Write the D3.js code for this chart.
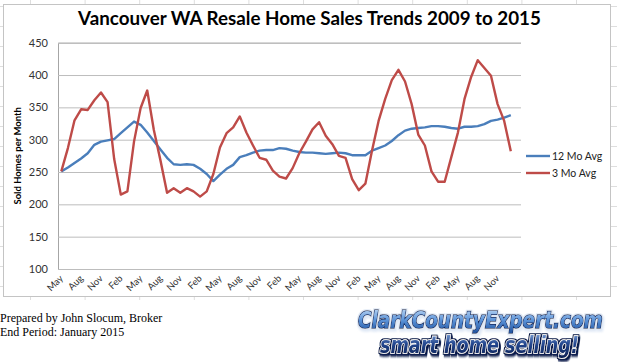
<!DOCTYPE html>
<html>
<head>
<meta charset="utf-8">
<script src="https://cdn.jsdelivr.net/npm/d3@7"></script>
<style>
  body { margin: 0; background: #fff; }
  svg { display: block; }
</style>
</head>
<body>
<div id="sales-trends-chart"></div>
<script>
const months = [
  "May-09","Jun-09","Jul-09","Aug-09","Sep-09","Oct-09","Nov-09","Dec-09",
  "Jan-10","Feb-10","Mar-10","Apr-10","May-10","Jun-10","Jul-10","Aug-10","Sep-10","Oct-10","Nov-10","Dec-10",
  "Jan-11","Feb-11","Mar-11","Apr-11","May-11","Jun-11","Jul-11","Aug-11","Sep-11","Oct-11","Nov-11","Dec-11",
  "Jan-12","Feb-12","Mar-12","Apr-12","May-12","Jun-12","Jul-12","Aug-12","Sep-12","Oct-12","Nov-12","Dec-12",
  "Jan-13","Feb-13","Mar-13","Apr-13","May-13","Jun-13","Jul-13","Aug-13","Sep-13","Oct-13","Nov-13","Dec-13",
  "Jan-14","Feb-14","Mar-14","Apr-14","May-14","Jun-14","Jul-14","Aug-14","Sep-14","Oct-14","Nov-14","Dec-14",
  "Jan-15"
];
const avg12 = [
  251, 257, 264, 271, 279, 292, 297, 299, 301, 310,
  319, 328, 323, 311, 298, 285, 272, 262, 261, 262,
  261, 255, 247, 236, 246, 255, 261, 273, 276, 280,
  283, 284, 284, 287, 286, 283, 281, 280, 280, 279,
  278, 279, 280, 279, 276, 276, 276, 283, 287, 291,
  298, 307, 314, 317, 318, 319, 321, 321, 320, 318,
  317, 320, 320, 321, 324, 329, 331, 334, 338
];
const avg3 = [
  251, 287, 330, 347, 346, 361, 373, 358, 270, 215,
  220, 297, 349, 376, 315, 268, 218, 225, 218, 225,
  220, 212, 220, 247, 288, 310, 319, 336, 311, 291,
  272, 269, 252, 243, 240, 256, 279, 297, 316, 327,
  306, 293, 275, 272, 239, 222, 232, 283, 329, 363,
  392, 408, 390, 355, 308, 291, 251, 235, 235, 273,
  311, 363, 397, 423, 411, 399, 355, 329, 282
];
const yTicks = [100, 150, 200, 250, 300, 350, 400, 450];
const seriesNames = ["12 Mo Avg", "3 Mo Avg"];
const seriesColors = ["#4a7ebb", "#be4b48"];

const width = 617, height = 362;
const plot = { left: 58, right: 521, top: 42.7, bottom: 269 };

const svg = d3.select('#sales-trends-chart')
  .append('svg')
  .attr('width', width)
  .attr('height', height);

// faint spreadsheet cell lines around the chart object
const cells = svg.append('g').attr('stroke', '#dedede').attr('stroke-width', 1);
d3.range(30.5, 617, 54.6).forEach(x => {
  cells.append('line').attr('x1', x).attr('x2', x).attr('y1', 0).attr('y2', 5);
  cells.append('line').attr('x1', x).attr('x2', x).attr('y1', 296).attr('y2', 300);
});
d3.range(6.5, 300, 20).forEach(y => {
  cells.append('line').attr('x1', 0).attr('x2', 3).attr('y1', y).attr('y2', y);
  cells.append('line').attr('x1', 611).attr('x2', 617).attr('y1', y).attr('y2', y);
});

// chart area
svg.append('rect')
  .attr('x', 3.5).attr('y', 4.5)
  .attr('width', 607).attr('height', 292)
  .attr('fill', '#fff')
  .attr('stroke', '#c4c4c4');

const x = d3.scalePoint().domain(months).range([61.3, 510.8]);
const y = d3.scaleLinear().domain([100, 450]).range([plot.bottom, plot.top]);

// gridlines + y axis
const yAxis = d3.axisLeft(y).tickValues(yTicks).tickSize(-(plot.right - plot.left)).tickPadding(10);
const gy = svg.append('g')
  .attr('transform', `translate(${plot.left},0)`)
  .call(yAxis);
gy.select('.domain').attr('stroke', '#a6a6a6');
gy.selectAll('.tick line').attr('stroke', '#bdbdbd');
gy.selectAll('.tick text')
  .attr('font-family', 'Lato, "Open Sans", sans-serif')
  .attr('font-size', 11)
  .attr('fill', '#333');

// x axis labels, every third month
const xAxis = d3.axisBottom(x)
  .tickValues(months.filter((d, i) => i % 3 === 0))
  .tickFormat(d => d.slice(0, 3))
  .tickSize(0);
const gx = svg.append('g')
  .attr('transform', `translate(0,${plot.bottom})`)
  .call(xAxis);
gx.select('.domain').remove();
gx.selectAll('.tick text')
  .attr('font-family', 'Lato, "Open Sans", sans-serif')
  .attr('font-size', 9.5)
  .attr('fill', '#333')
  .attr('text-anchor', 'end')
  .attr('dy', null)
  .attr('y', 0)
  .attr('transform', 'translate(2,10) rotate(-45)');

// y axis title
svg.append('text')
  .attr('transform', `translate(21,${(plot.top + plot.bottom) / 2}) rotate(-90)`)
  .attr('text-anchor', 'middle')
  .attr('font-family', 'Lato, "Open Sans", sans-serif')
  .attr('font-weight', 'bold')
  .attr('font-size', 9.5)
  .attr('fill', '#000')
  .text('Sold Homes per Month');

// lines
const line = d3.line().x((d, i) => x(months[i])).y(d => y(d));
[avg12, avg3].forEach((vals, k) => {
  svg.append('path')
    .datum(vals)
    .attr('fill', 'none')
    .attr('stroke', seriesColors[k])
    .attr('stroke-width', 2.4)
    .attr('stroke-linejoin', 'round')
    .attr('d', line);
});

// legend
const legend = svg.append('g').attr('transform', 'translate(526,156)');
seriesNames.forEach((name, k) => {
  const row = legend.append('g').attr('transform', `translate(0,${k * 17})`);
  row.append('line')
    .attr('x1', 0).attr('x2', 24)
    .attr('stroke', seriesColors[k])
    .attr('stroke-width', 2.4);
  row.append('text')
    .attr('x', 26).attr('y', 4)
    .attr('font-family', 'Lato, "Open Sans", sans-serif')
    .attr('font-size', 10.5)
    .attr('fill', '#222')
    .text(name);
});

// title
const title = svg.append('text')
  .attr('x', 309.5).attr('y', 25)
  .attr('text-anchor', 'middle')
  .attr('font-family', 'Lato, "Open Sans", sans-serif')
  .attr('font-weight', 'bold')
  .attr('font-size', 19)
  .attr('fill', '#000')
  .text('Vancouver WA Resale Home Sales Trends 2009 to 2015');
const tw = title.node().getComputedTextLength();
title.attr('font-size', 19 * 463 / tw);

// footer notes
const notes = ['Prepared by John Slocum, Broker', 'End Period: January 2015'];
notes.forEach((t, i) => {
  svg.append('text')
    .attr('x', 0).attr('y', 322 + i * 14)
    .attr('font-family', '"Liberation Serif", "Times New Roman", serif')
    .attr('font-size', 12)
    .attr('fill', '#000')
    .text(t);
});

// logo
const defs = svg.append('defs');
const g1 = defs.append('linearGradient').attr('id', 'logo-top').attr('x1', 0).attr('y1', 0).attr('x2', 0).attr('y2', 1);
g1.append('stop').attr('offset', '0%').attr('stop-color', '#c4ddf7');
g1.append('stop').attr('offset', '50%').attr('stop-color', '#5b93d8');
g1.append('stop').attr('offset', '100%').attr('stop-color', '#1d4f9c');
const g2 = defs.append('linearGradient').attr('id', 'logo-bot').attr('x1', 0).attr('y1', 0).attr('x2', 0).attr('y2', 1);
g2.append('stop').attr('offset', '0%').attr('stop-color', '#8aaee0');
g2.append('stop').attr('offset', '45%').attr('stop-color', '#23468f');
g2.append('stop').attr('offset', '100%').attr('stop-color', '#0e1f4f');

function outlineFilter(id, color, r) {
  const f = defs.append('filter').attr('id', id)
    .attr('x', '-10%').attr('y', '-30%').attr('width', '120%').attr('height', '160%');
  f.append('feMorphology').attr('in', 'SourceAlpha').attr('operator', 'dilate').attr('radius', r).attr('result', 'thick');
  f.append('feFlood').attr('flood-color', color);
  f.append('feComposite').attr('in2', 'thick').attr('operator', 'in').attr('result', 'outline');
  f.append('feOffset').attr('in', 'outline').attr('dx', 1).attr('dy', 1.5).attr('result', 'shadow0');
  f.append('feGaussianBlur').attr('in', 'shadow0').attr('stdDeviation', 1).attr('result', 'shadow');
  const m = f.append('feMerge');
  m.append('feMergeNode').attr('in', 'shadow');
  m.append('feMergeNode').attr('in', 'outline');
  m.append('feMergeNode').attr('in', 'SourceGraphic');
}
outlineFilter('logo-f1', '#dfe8f5', 1.2);
outlineFilter('logo-f2', '#0f1f4d', 1.2);

const logo = [
  { text: 'ClarkCountyExpert.com', x: 358, y: 328, len: 245, fill: 'url(#logo-top)', stroke: '#14275a', filter: 'url(#logo-f1)' },
  { text: 'smart home selling!', x: 380, y: 353, len: 199, fill: 'url(#logo-bot)', stroke: '#ffffff', filter: 'url(#logo-f2)' }
];
logo.forEach(l => {
  const t = svg.append('text')
    .attr('x', 0).attr('y', 0)
    .attr('font-family', '"DejaVu Sans", sans-serif')
    .attr('font-weight', 'bold').attr('font-style', 'italic')
    .attr('font-size', 23)
    .attr('fill', l.fill)
    .attr('stroke', l.stroke).attr('stroke-width', 1.6)
    .attr('paint-order', 'stroke')
    .attr('filter', l.filter)
    .text(l.text);
  const w = t.node().getComputedTextLength();
  t.attr('transform', `translate(${l.x},${l.y}) scale(${l.len / w},1)`);
});
</script>
</body>
</html>
